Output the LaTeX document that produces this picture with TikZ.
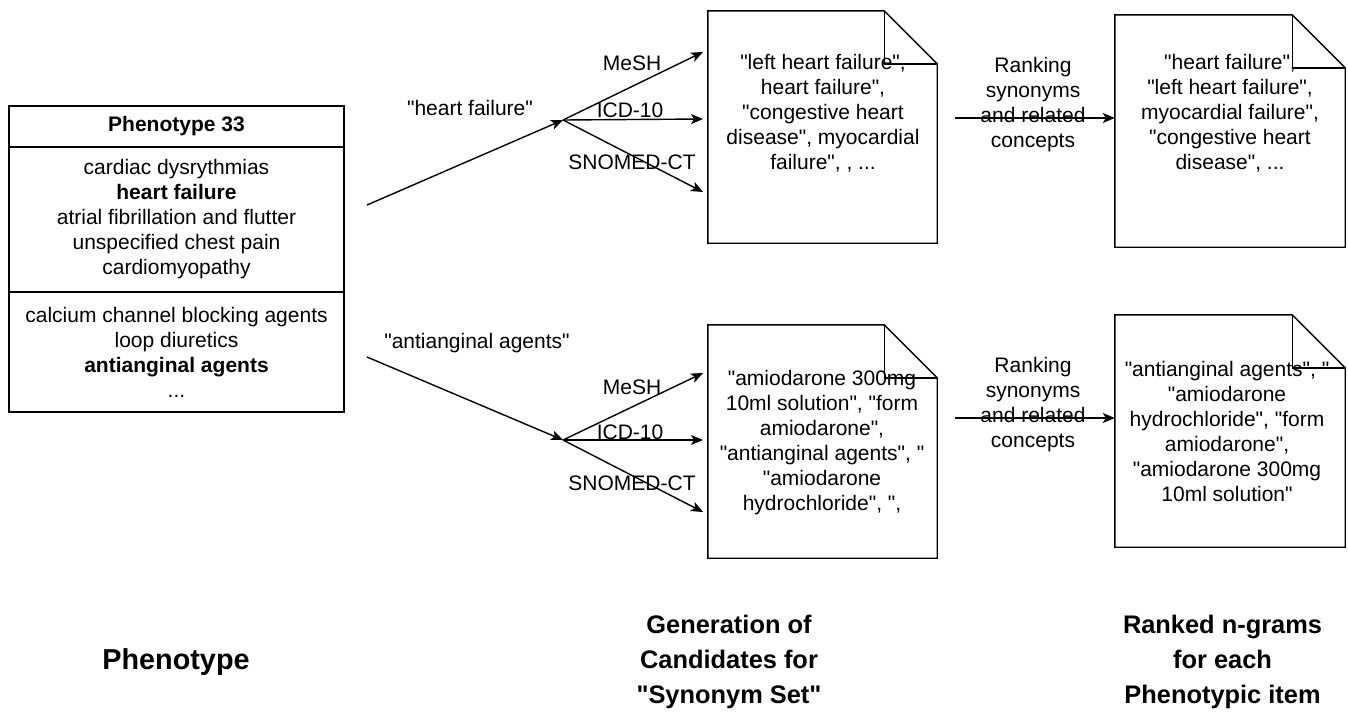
\documentclass[tikz,border=0pt]{standalone}
\usepackage{fontspec}
\setmainfont{Liberation Sans}[Ligatures=TeXOff]
\usetikzlibrary{arrows.meta}
\newcommand\docdraw[1]{%
  \draw[ln] (#1.north west) -- ([xshift=-53pt]#1.north east) -- ([yshift=-53pt]#1.north east) -- (#1.south east) -- (#1.south west) -- cycle;
  \draw[ln] ([xshift=-53pt]#1.north east) -- ([xshift=-53pt,yshift=-53pt]#1.north east) -- ([yshift=-53pt]#1.north east);}
\begin{document}
\begin{tikzpicture}[x=1pt,y=-1pt,
  ln/.style={line width=1.4pt, line join=miter},
  txt/.style={font=\fontsize{21}{25}\selectfont, align=center, inner sep=0pt},
  lbl/.style={font=\fontsize{25.4}{35}\selectfont\bfseries, align=center, inner sep=0pt},
  docshape/.style={minimum width=229pt, minimum height=232pt, inner sep=0pt},
  arr/.style={ln, -{Stealth[length=12pt,width=10pt,inset=3pt]}},
  cell/.style={draw, ln, minimum width=335pt, inner sep=0pt, txt}]
\useasboundingbox (0,0) rectangle (1348,715);

% left phenotype box
\node[cell, minimum height=41pt] (hdr) at (176.5,126.5) {\bfseries Phenotype 33};
\node[cell, minimum height=145pt] (sec1) at (176.5,219.5) {cardiac dysrythmias\\\textbf{heart failure}\\atrial fibrillation and flutter\\unspecified chest pain\\cardiomyopathy};
\node[cell, minimum height=120pt] (sec2) at (176.5,352) {calcium channel blocking agents\\loop diuretics\\\textbf{antianginal agents}\\...};

% documents
\node[docshape] (d1) at (822.5,127) {};
\node[docshape, minimum width=230pt] (d2) at (1230,131) {};
\node[docshape, minimum height=233pt] (d3) at (822.5,441.5) {};
\node[docshape, minimum width=230pt] (d4) at (1230,431) {};
\docdraw{d1}
\docdraw{d2}
\docdraw{d3}
\docdraw{d4}

\node[txt] (t1) at (823,113.5) {"left heart failure",\\heart failure",\\"congestive heart\\disease", myocardial\\failure", , ...};
\node[txt] (t2) at (1230,113.5) {"heart failure",\\"left heart failure",\\myocardial failure",\\"congestive heart\\disease", ...};
\node[txt] (t3) at (822,442.5) {"amiodarone 300mg\\10ml solution", "form\\amiodarone",\\"antianginal agents", "\\"amiodarone\\hydrochloride", ",};
\node[txt] (t4) at (1227,431.5) {"antianginal agents", "\\"amiodarone\\hydrochloride", "form\\amiodarone",\\"amiodarone 300mg\\10ml solution"};

% top flow
\coordinate (s1) at (367,205);
\coordinate (j1) at (563,120);
\coordinate (e1a) at (703,52);
\coordinate (e1b) at (703,119);
\coordinate (e1c) at (703,192);
\draw[arr] (s1) -- (j1);
\draw[arr] (j1) -- (e1a);
\draw[arr] (j1) -- (e1b);
\draw[arr] (j1) -- (e1c);
\node[txt] (q1) at (470,108) {"heart failure"};
\node[txt] (m1) at (632,63) {MeSH};
\node[txt] (i1) at (630,110) {ICD-10};
\node[txt] (n1) at (632,162) {SNOMED-CT};

\coordinate (r1) at (955,118);
\draw[arr] (r1) -- (r1 -| d2.west);
\node[txt] (rk1) at (1033,104.5) {Ranking\\synonyms\\and related\\concepts};

% bottom flow
\coordinate (s2) at (367,357);
\coordinate (j2) at (563,440);
\coordinate (e2a) at (703,373);
\coordinate (e2b) at (703,440);
\coordinate (e2c) at (703,512);
\draw[arr] (s2) -- (j2);
\draw[arr] (j2) -- (e2a);
\draw[arr] (j2) -- (e2b);
\draw[arr] (j2) -- (e2c);
\node[txt] (q2) at (477,343) {"antianginal agents"};
\node[txt] (m2) at (632,387) {MeSH};
\node[txt] (i2) at (630,432) {ICD-10};
\node[txt] (n2) at (632,483) {SNOMED-CT};

\coordinate (r2) at (955,418);
\draw[arr] (r2) -- (r2 -| d4.west);
\node[txt] (rk2) at (1033,405) {Ranking\\synonyms\\and related\\concepts};

% column labels
\node[lbl, font=\fontsize{28.8}{35}\selectfont\bfseries] (c1) at (176,662) {Phenotype};
\node[lbl] (c2) at (729,662) {Generation of\\Candidates for\\"Synonym Set"};
\node[lbl] (c3) at (1222.5,662) {Ranked n-grams\\for each\\Phenotypic item};
\end{tikzpicture}
\end{document}
